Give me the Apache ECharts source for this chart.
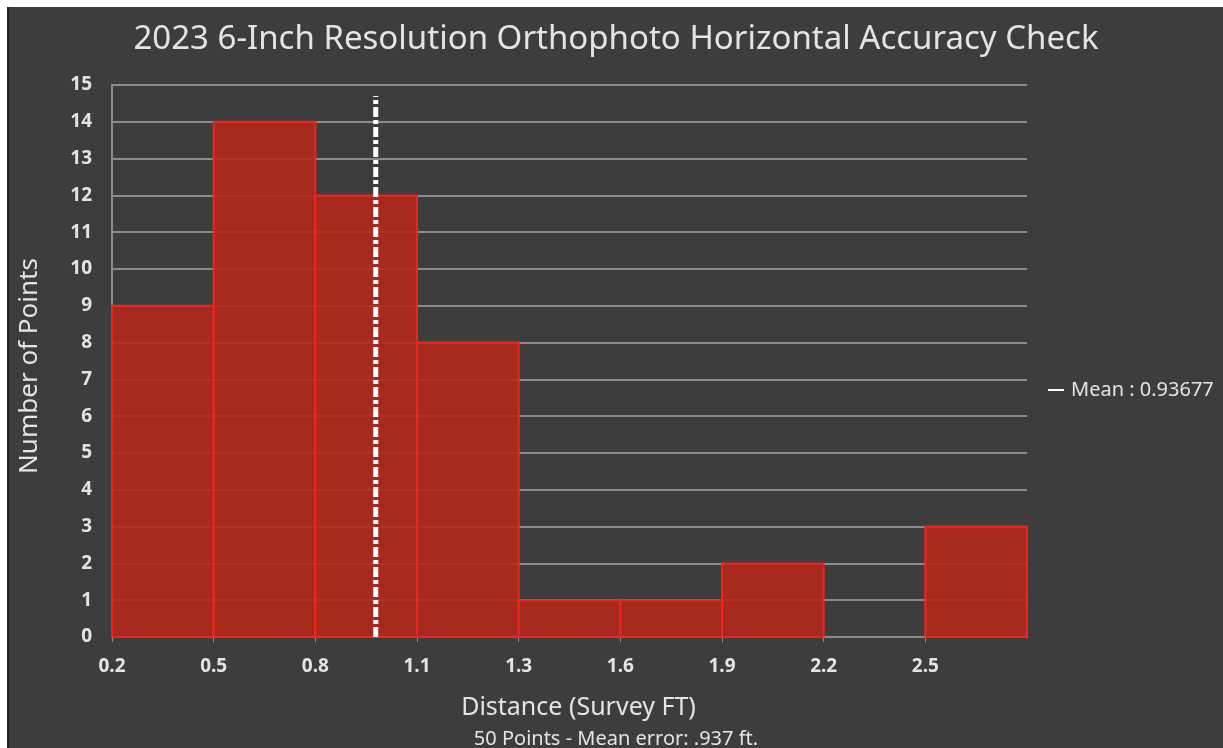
<!DOCTYPE html>
<html>
<head>
<meta charset="utf-8">
<script src="https://cdn.jsdelivr.net/npm/echarts@6/dist/echarts.min.js"></script>
<style>
html,body{margin:0;padding:0;background:#ffffff;width:1223px;height:748px;overflow:hidden;}
#chart{position:absolute;left:7px;top:7px;width:1216px;height:741px;background:#3d3d3d;border-left:2px solid #1b1f2c;box-sizing:border-box;}
</style>
</head>
<body>
<div id="chart"></div>
<script>
// ---- data ----
const binStart = 0.2;
const binWidth = 0.284;
const counts = [9, 14, 12, 8, 1, 1, 2, 0, 3];
const meanValue = 0.93677;
const meanLineTop = 14.7;
const titleText = '2023 6-Inch Resolution Orthophoto Horizontal Accuracy Check';
const xName = 'Distance (Survey FT)';
const yName = 'Number of Points';
const footText = '50 Points - Mean error: .937 ft.';
const legendName = 'Mean : 0.93677';

// ---- derived ----
const edges = counts.map((c, i) => +(binStart + i * binWidth).toFixed(4));
const xMax = +(binStart + counts.length * binWidth).toFixed(4);
const barData = counts.map((c, i) => [edges[i], +(edges[i] + binWidth).toFixed(4), c]);

const FONT = '"Noto Sans", "Open Sans", sans-serif';
const TXT = '#e4e4e4';
const chart = echarts.init(document.getElementById('chart'), null, {renderer: 'canvas'});
chart.setOption({
  backgroundColor: '#3d3d3d',
  animation: false,
  title: [
    {text: titleText, left: 'center', top: 11,
     textStyle: {color: TXT, fontSize: 33, fontWeight: 'normal', fontFamily: FONT}},
    {text: footText, left: 'center', top: 717,
     textStyle: {color: TXT, fontSize: 20, fontWeight: 'normal', fontFamily: FONT}}
  ],
  legend: {
    data: [{name: legendName, icon: 'rect'}],
    left: 1034, top: 368, orient: 'vertical',
    itemWidth: 16, itemHeight: 2, itemGap: 6,
    textStyle: {color: TXT, fontSize: 20, fontFamily: FONT, padding: [0, 0, 0, 2]}
  },
  grid: {left: 102, right: 196, top: 78, bottom: 111, containLabel: false},
  xAxis: {
    type: 'value', min: binStart, max: xMax,
    name: xName, nameLocation: 'middle', nameGap: 58,
    nameTextStyle: {color: TXT, fontSize: 25, fontFamily: FONT, padding: [0, 0, 0, 18]},
    axisLine: {show: true, lineStyle: {color: '#8c8c8c', width: 2}},
    axisTick: {show: true, length: 5, customValues: edges, lineStyle: {color: '#8c8c8c', width: 1}},
    axisLabel: {customValues: edges, formatter: v => v.toFixed(1), color: TXT, fontSize: 19, fontWeight: 'bold', fontFamily: FONT, margin: 20},
    splitLine: {show: false}
  },
  yAxis: {
    type: 'value', min: 0, max: 15, interval: 1,
    name: yName, nameLocation: 'middle', nameGap: 69,
    nameTextStyle: {color: TXT, fontSize: 26, fontFamily: FONT, padding: [0, 10, 0, 0]},
    axisLine: {show: true, lineStyle: {color: '#8c8c8c', width: 2}},
    axisTick: {show: false},
    axisLabel: {color: TXT, fontSize: 19, fontWeight: 'bold', fontFamily: FONT, margin: 20},
    splitLine: {show: true, lineStyle: {color: '#8c8c8c', width: 2}}
  },
  series: [
    {
      type: 'custom',
      name: 'bins',
      data: barData,
      encode: {x: [0, 1], y: 2},
      z: 2,
      renderItem: function (params, api) {
        const v = api.value(2);
        if (!v) return null;
        const p0 = api.coord([api.value(0), 0]);
        const p1 = api.coord([api.value(1), v]);
        return {
          type: 'rect',
          shape: {x: p0[0], y: p1[1], width: p1[0] - p0[0], height: p0[1] - p1[1]},
          style: {fill: 'rgba(178,40,28,0.9)', stroke: '#f2231a', lineWidth: 2}
        };
      }
    },
    {
      type: 'line',
      name: legendName,
      data: [[meanValue, 0], [meanValue, meanLineTop]],
      symbol: 'none',
      z: 5,
      itemStyle: {color: '#ffffff'},
      lineStyle: {color: '#ffffff', width: 5, type: [10, 3, 4, 3]}
    }
  ]
});
</script>
</body>
</html>
